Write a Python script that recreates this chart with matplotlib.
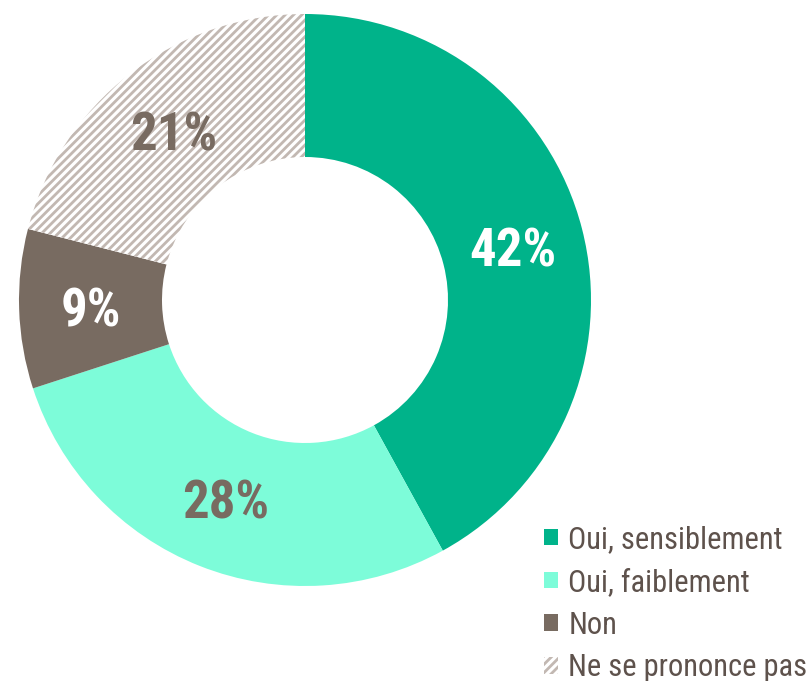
import matplotlib
matplotlib.use('Agg')
import matplotlib.pyplot as plt
from matplotlib.transforms import offset_copy

labels = ['Oui, sensiblement', 'Oui, faiblement', 'Non', 'Ne se prononce pas']
values = [42, 28, 9, 21]
colors = ['#00b38a', '#7dfcd9', '#786b61', '#ffffff']
hatches = ['', '', '', '////']
pct_colors = ['white', '#786b61', 'white', '#786b61']

plt.rcParams['font.family'] = ['Roboto Condensed', 'DejaVu Sans']
plt.rcParams['hatch.linewidth'] = 2.0

fig = plt.figure(figsize=(8.09, 6.81), dpi=100)
W, H = 809, 681
cx, cy, r = 305, 300, 286
ax = fig.add_axes([(cx - r) / W, (H - cy - r) / H, 2 * r / W, 2 * r / H])

wedges, texts, autotexts = ax.pie(
    values, colors=colors, startangle=90, counterclock=False, radius=1,
    wedgeprops=dict(width=0.5, linewidth=0), autopct='%d%%', pctdistance=0.75,
    textprops=dict(fontsize=38, fontweight='bold'))

for w, h in zip(wedges, hatches):
    if h:
        w.set_hatch(h)
        w.set_edgecolor('#c2b8b2')
        w.set_linewidth(0)

# labels sit a few pixels lower in the original
shift = offset_copy(ax.transData, fig=fig, x=0, y=-5, units='dots')
for t, c in zip(autotexts, pct_colors):
    t.set_color(c)
    t.set_transform(shift)

ax.set_xlim(-1, 1)
ax.set_ylim(-1, 1)
ax.set_aspect('equal')
ax.axis('off')

leg = fig.legend(wedges, labels, loc='upper left', bbox_to_anchor=(544 / W, 1 - 525 / H),
                 frameon=False, fontsize=22, handlelength=0.45, handleheight=0.45,
                 handletextpad=0.35, labelspacing=0.45, borderpad=0, borderaxespad=0)
for t in leg.get_texts():
    t.set_color('#5e524c')

fig.savefig('out.png', dpi=100)
